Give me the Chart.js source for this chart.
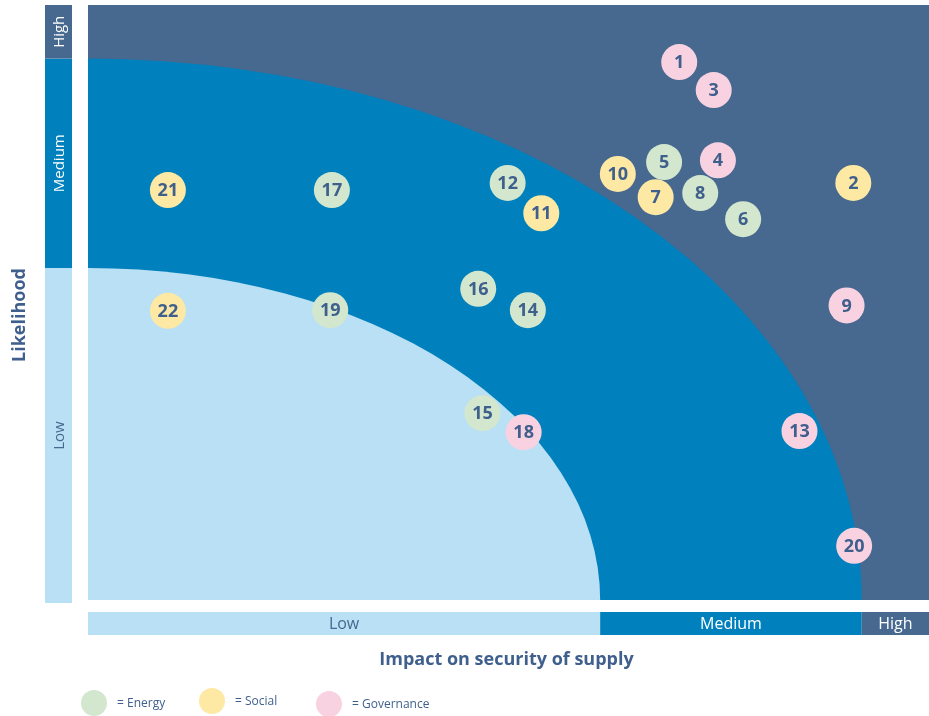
<!DOCTYPE html>
<html>
<head>
<meta charset="utf-8">
<script src="https://cdn.jsdelivr.net/npm/chart.js@4.4.0/dist/chart.umd.min.js"></script>
<style>
  html, body { margin: 0; padding: 0; background: #fff; }
  canvas { display: block; }
</style>
</head>
<body>
<canvas id="riskMatrix" width="929" height="716"></canvas>
<script>
// risk ids and their position (impact 0-100, likelihood 0-100)
const riskIds    = [1, 2, 3, 4, 5, 6, 7, 8, 9, 10, 11, 12, 13, 14, 15, 16, 17, 18, 19, 20, 21, 22];
const impact     = [70.3, 91.0, 74.4, 74.9, 68.5, 77.9, 67.5, 72.8, 90.2, 63.0, 53.9, 49.9, 84.6, 52.3, 46.9, 46.4, 29.0, 51.8, 28.8, 91.1, 9.5, 9.5];
const likelihood = [90.4, 70.1, 85.7, 73.9, 73.6, 64.0, 67.7, 68.4, 49.5, 71.6, 65.0, 70.1, 28.4, 48.7, 31.4, 52.3, 68.9, 28.2, 48.7, 9.1, 68.9, 48.6];
const category   = ['Governance', 'Social', 'Governance', 'Governance', 'Energy', 'Energy', 'Social', 'Energy', 'Governance', 'Social', 'Social', 'Energy', 'Governance', 'Energy', 'Energy', 'Energy', 'Energy', 'Governance', 'Energy', 'Governance', 'Social', 'Social'];

const categories = ['Energy', 'Social', 'Governance'];
const catColors  = ['#d3e7cf', '#fde8a4', '#f9d2e2'];

// level bands (upper bound of each band)
const levelNames      = ['Low', 'Medium', 'High'];
const impactBounds    = [60.9, 92.0, 100];
const likelihoodBounds = [55.8, 91.0, 100];
const bandColors = ['#b9e0f4', '#0080bc', '#47688f'];
const bandText   = ['#47688f', '#ffffff', '#ffffff'];

const textBlue = '#3f5f8c';

const datasets = categories.map((cat, ci) => ({
  label: cat,
  data: riskIds
    .map((id, i) => ({ x: impact[i], y: likelihood[i], id: id, cat: category[i] }))
    .filter(p => p.cat === cat),
  backgroundColor: catColors[ci],
  borderWidth: 0,
  pointRadius: 18,
  pointHoverRadius: 18,
}));

const zonesPlugin = {
  id: 'zones',
  beforeDatasetsDraw(chart) {
    const { ctx, chartArea: a, scales: { x, y } } = chart;
    const cx = x.getPixelForValue(0), cy = y.getPixelForValue(0);
    ctx.save();
    ctx.beginPath();
    ctx.rect(a.left, a.top, a.right - a.left, a.bottom - a.top);
    ctx.clip();
    ctx.fillStyle = bandColors[2];
    ctx.fillRect(a.left, a.top, a.right - a.left, a.bottom - a.top);
    for (let k = 1; k >= 0; k--) {
      const rx = x.getPixelForValue(impactBounds[k]) - cx;
      const ry = cy - y.getPixelForValue(likelihoodBounds[k]);
      ctx.beginPath();
      ctx.moveTo(cx, cy);
      ctx.ellipse(cx, cy, rx, ry, 0, -Math.PI / 2, 0);
      ctx.closePath();
      ctx.fillStyle = bandColors[k];
      ctx.fill();
    }
    ctx.restore();
  },
  afterDatasetsDraw(chart) {
    const { ctx, chartArea: a, scales: { x, y } } = chart;
    ctx.save();
    // numbers in bubbles
    ctx.fillStyle = textBlue;
    ctx.font = 'bold 18px "Open Sans", sans-serif';
    ctx.textAlign = 'center';
    ctx.textBaseline = 'middle';
    chart.data.datasets.forEach((ds, di) => {
      chart.getDatasetMeta(di).data.forEach((el, i) => {
        ctx.fillText(String(ds.data[i].id), el.x, el.y + 1);
      });
    });

    // likelihood bar on the left
    const barL = 45, barW = 27;
    let prev = 0;
    likelihoodBounds.forEach((b, k) => {
      const top = k === 2 ? a.top : y.getPixelForValue(b);
      const bot = k === 0 ? a.bottom + 3 : y.getPixelForValue(prev);
      ctx.fillStyle = bandColors[k];
      ctx.fillRect(barL, top, barW, bot - top);
      ctx.save();
      ctx.translate(barL + barW / 2, (top + bot) / 2);
      ctx.rotate(-Math.PI / 2);
      ctx.fillStyle = bandText[k];
      ctx.font = '15px "Open Sans", sans-serif';
      ctx.fillText(levelNames[k], 0, 1);
      ctx.restore();
      prev = b;
    });

    // impact bar at the bottom
    const barT = a.bottom + 12, barH = 23;
    prev = 0;
    impactBounds.forEach((b, k) => {
      const l = x.getPixelForValue(prev), r = x.getPixelForValue(b);
      ctx.fillStyle = bandColors[k];
      ctx.fillRect(l, barT, r - l, barH);
      ctx.fillStyle = bandText[k];
      ctx.font = '16px "Open Sans", sans-serif';
      ctx.fillText(levelNames[k], (l + r) / 2, barT + barH / 2 + 1);
      prev = b;
    });

    // axis titles
    ctx.fillStyle = textBlue;
    ctx.font = 'bold 18px "Open Sans", sans-serif';
    ctx.fillText('Impact on security of supply', (a.left + a.right) / 2 - 2, 660);
    ctx.save();
    ctx.translate(20, 315);
    ctx.rotate(-Math.PI / 2);
    ctx.fillText('Likelihood', 0, 0);
    ctx.restore();

    // legend
    const legX = [94, 212, 329], legY = [703, 701, 704];
    ctx.textAlign = 'left';
    ctx.font = '12px "Open Sans", sans-serif';
    categories.forEach((cat, ci) => {
      ctx.beginPath();
      ctx.arc(legX[ci], legY[ci], 13, 0, Math.PI * 2);
      ctx.fillStyle = catColors[ci];
      ctx.fill();
      ctx.fillStyle = textBlue;
      ctx.fillText('= ' + cat, legX[ci] + 23, legY[ci] + 1);
    });
    ctx.restore();
  }
};

new Chart(document.getElementById('riskMatrix'), {
  type: 'scatter',
  data: { datasets: datasets },
  options: {
    responsive: false,
    animation: false,
    layout: { autoPadding: false, padding: { left: 88, top: 5, right: 0, bottom: 116 } },
    scales: {
      x: { display: false, min: 0, max: 100 },
      y: { display: false, min: 0, max: 100 },
    },
    plugins: {
      legend: { display: false },
      tooltip: { enabled: false },
    },
  },
  plugins: [zonesPlugin],
});
</script>
</body>
</html>
